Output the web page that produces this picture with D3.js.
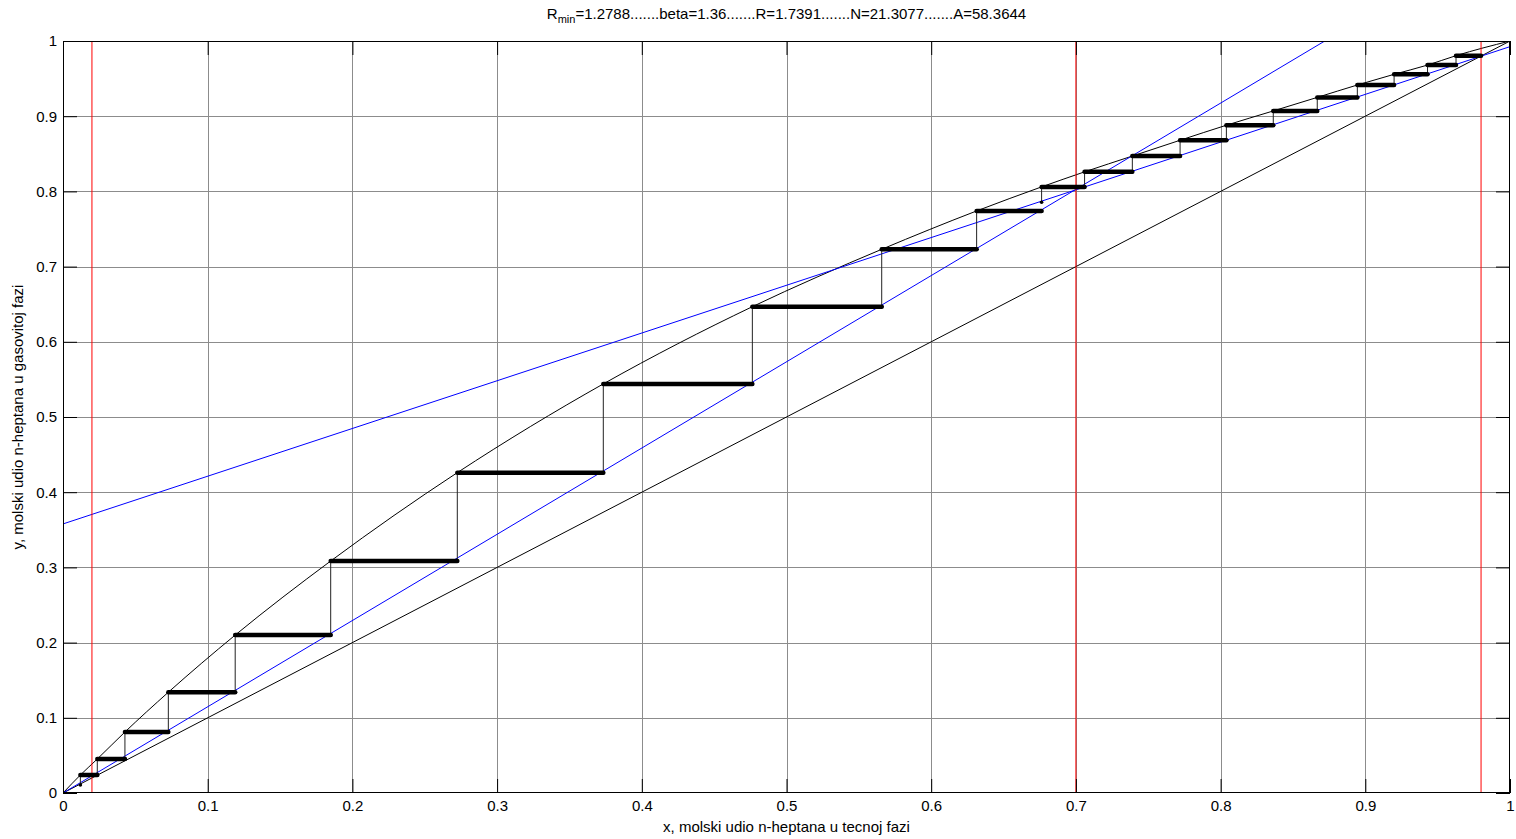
<!DOCTYPE html>
<html>
<head>
<meta charset="utf-8">
<script src="https://cdn.jsdelivr.net/npm/d3@7"></script>
<style>
  html, body { margin: 0; padding: 0; background: #ffffff; }
  svg { display: block; }
  text { font-family: "Liberation Sans", Arial, Helvetica, sans-serif; fill: #000; }
</style>
</head>
<body>
<svg id="chart" width="1516" height="839"></svg>
<script>
// ---------------- data ----------------
const xTickValues = [0, 0.1, 0.2, 0.3, 0.4, 0.5, 0.6, 0.7, 0.8, 0.9, 1];
const xTickLabels = ["0", "0.1", "0.2", "0.3", "0.4", "0.5", "0.6", "0.7", "0.8", "0.9", "1"];
const yTickValues = [0, 0.1, 0.2, 0.3, 0.4, 0.5, 0.6, 0.7, 0.8, 0.9, 1];
const yTickLabels = ["0", "0.1", "0.2", "0.3", "0.4", "0.5", "0.6", "0.7", "0.8", "0.9", "1"];

// equilibrium curve (black)
const eqX = [0, 0.012, 0.0237, 0.0428, 0.0728, 0.119, 0.185, 0.2725, 0.3734, 0.4764, 0.5658, 0.6314, 0.6763, 0.706, 0.739, 0.772, 0.804, 0.8364, 0.8668, 0.8945, 0.9199, 0.943, 0.9627, 1];
const eqY = [0, 0.0239, 0.0452, 0.0811, 0.134, 0.210, 0.3085, 0.426, 0.544, 0.6467, 0.723, 0.774, 0.806, 0.826, 0.847, 0.868, 0.888, 0.907, 0.925, 0.9415, 0.9557, 0.968, 0.9805, 1];

// diagonal y = x (black)
const diagX = [0, 1];
const diagY = [0, 1];

// rectifying operating line (blue)
const rectX = [0, 1];
const rectY = [0.3578, 0.9925];

// stripping operating line (blue)
const stripX = [0, 0.872];
const stripY = [0, 1];

// red vertical markers: xW, zF, xD
const redX = [0.02, 0.7, 0.98];

// McCabe-Thiele steps: horizontal at stepY from stepXLeft to stepXRight,
// then vertical at stepXLeft from stepY down to stepYBottom
const stepY       = [0.9805, 0.968, 0.9557, 0.9415, 0.925, 0.907, 0.888, 0.868, 0.847, 0.826, 0.806, 0.774, 0.723, 0.6467, 0.544, 0.426, 0.3085, 0.210, 0.134, 0.0811, 0.0452, 0.0239];
const stepXLeft   = [0.9627, 0.943, 0.9199, 0.8945, 0.8668, 0.8364, 0.804, 0.772, 0.739, 0.706, 0.6763, 0.6314, 0.5658, 0.4764, 0.3734, 0.2725, 0.185, 0.119, 0.0728, 0.0428, 0.0237, 0.012];
const stepXRight  = [0.98, 0.9627, 0.943, 0.9199, 0.8945, 0.8668, 0.8364, 0.804, 0.772, 0.739, 0.706, 0.6763, 0.6314, 0.5658, 0.4764, 0.3734, 0.2725, 0.185, 0.119, 0.0728, 0.0428, 0.0237];
const stepYBottom = [0.968, 0.9557, 0.9415, 0.925, 0.907, 0.888, 0.868, 0.847, 0.826, 0.806, 0.7855, 0.723, 0.6467, 0.544, 0.426, 0.3085, 0.210, 0.134, 0.0811, 0.0452, 0.0239, 0.0106];

// ---------------- layout ----------------
const svg = d3.select("#chart");
const L = 63, R = 1510, T = 41, B = 793;
const x = d3.scaleLinear().domain([0, 1]).range([L, R]);
const y = d3.scaleLinear().domain([0, 1]).range([B, T]);
const FS = 15;

const defs = svg.append("defs");
defs.append("clipPath").attr("id", "plotclip")
  .append("rect").attr("x", L).attr("y", T).attr("width", R - L).attr("height", B - T);

// grid
const grid = svg.append("g").attr("class", "grid");
xTickValues.slice(1, -1).forEach(v => {
  grid.append("line").attr("x1", Math.round(x(v)) + 0.5).attr("x2", Math.round(x(v)) + 0.5)
    .attr("y1", T).attr("y2", B).attr("stroke", "#8c8c8c").attr("stroke-width", 1);
});
yTickValues.slice(1, -1).forEach(v => {
  grid.append("line").attr("y1", Math.round(y(v)) + 0.5).attr("y2", Math.round(y(v)) + 0.5)
    .attr("x1", L).attr("x2", R).attr("stroke", "#8c8c8c").attr("stroke-width", 1);
});

const plot = svg.append("g").attr("clip-path", "url(#plotclip)");
const line = d3.line().x(d => x(d[0])).y(d => y(d[1]));
const zip = (a, b) => a.map((v, i) => [v, b[i]]);

// diagonal
plot.append("path").attr("d", line(zip(diagX, diagY)))
  .attr("fill", "none").attr("stroke", "#000").attr("stroke-width", 1);

// equilibrium curve
plot.append("path").attr("d", d3.line().x(d => x(d[0])).y(d => y(d[1])).curve(d3.curveMonotoneX)(zip(eqX, eqY)))
  .attr("fill", "none").attr("stroke", "#000").attr("stroke-width", 1);

// operating lines
plot.append("path").attr("d", line(zip(rectX, rectY)))
  .attr("fill", "none").attr("stroke", "#0000ff").attr("stroke-width", 1);
plot.append("path").attr("d", line(zip(stripX, stripY)))
  .attr("fill", "none").attr("stroke", "#0000ff").attr("stroke-width", 1);

// red vertical lines
redX.forEach(v => {
  plot.append("line").attr("x1", x(v)).attr("x2", x(v)).attr("y1", T).attr("y2", B)
    .attr("stroke", "#ff0000").attr("stroke-width", 1);
});

// steps: verticals (thin)
stepY.forEach((v, i) => {
  plot.append("line")
    .attr("x1", x(stepXLeft[i])).attr("x2", x(stepXLeft[i]))
    .attr("y1", y(v)).attr("y2", y(stepYBottom[i]))
    .attr("stroke", "#222").attr("stroke-width", 1);
  plot.append("circle").attr("cx", x(stepXLeft[i])).attr("cy", y(stepYBottom[i]))
    .attr("r", 1.8).attr("fill", "#000");
});
// steps: horizontals (thick)
stepY.forEach((v, i) => {
  plot.append("line")
    .attr("x1", x(stepXLeft[i])).attr("x2", x(stepXRight[i]))
    .attr("y1", y(v)).attr("y2", y(v))
    .attr("stroke", "#000").attr("stroke-width", 4.5).attr("stroke-linecap", "round");
});

// axes (ticks inward, on all 4 sides)
const TK = 14;
const fmtX = (d, i) => xTickLabels[i];
const fmtY = (d, i) => yTickLabels[i];
const axB = svg.append("g").attr("transform", `translate(0,${B})`)
  .call(d3.axisBottom(x).tickValues(xTickValues).tickFormat(fmtX).tickSizeInner(-TK).tickSizeOuter(0).tickPadding(7));
const axL = svg.append("g").attr("transform", `translate(${L},0)`)
  .call(d3.axisLeft(y).tickValues(yTickValues).tickFormat(fmtY).tickSizeInner(-TK).tickSizeOuter(0).tickPadding(6));
const axT = svg.append("g").attr("transform", `translate(0,${T})`)
  .call(d3.axisTop(x).tickValues(xTickValues).tickFormat("").tickSizeInner(-TK).tickSizeOuter(0));
const axR = svg.append("g").attr("transform", `translate(${R},0)`)
  .call(d3.axisRight(y).tickValues(yTickValues).tickFormat("").tickSizeInner(-TK).tickSizeOuter(0));
[axB, axL, axT, axR].forEach(g => {
  g.select(".domain").remove();
  g.selectAll("line").attr("stroke", "#000");
  g.selectAll("text").attr("font-size", FS).attr("font-family", "Liberation Sans, Arial, sans-serif").attr("fill", "#000");
});

// frame
svg.append("rect").attr("x", L + 0.5).attr("y", T + 0.5).attr("width", R - L - 1).attr("height", B - T - 1)
  .attr("fill", "none").attr("stroke", "#000").attr("stroke-width", 1);

// title with subscript
const title = svg.append("text").attr("x", (L + R) / 2).attr("y", 19).attr("text-anchor", "middle").attr("font-size", FS);
title.append("tspan").text("R");
title.append("tspan").attr("font-size", 11).attr("dy", 4).text("min");
title.append("tspan").attr("dy", -4).text("=1.2788.......beta=1.36.......R=1.7391.......N=21.3077.......A=58.3644");

// axis labels
svg.append("text").attr("x", (L + R) / 2).attr("y", 832).attr("text-anchor", "middle").attr("font-size", FS)
  .text("x, molski udio n-heptana u tecnoj fazi");
svg.append("text").attr("transform", `translate(23,${(T + B) / 2}) rotate(-90)`).attr("text-anchor", "middle").attr("font-size", FS)
  .text("y, molski udio n-heptana u gasovitoj fazi");
</script>
</body>
</html>
